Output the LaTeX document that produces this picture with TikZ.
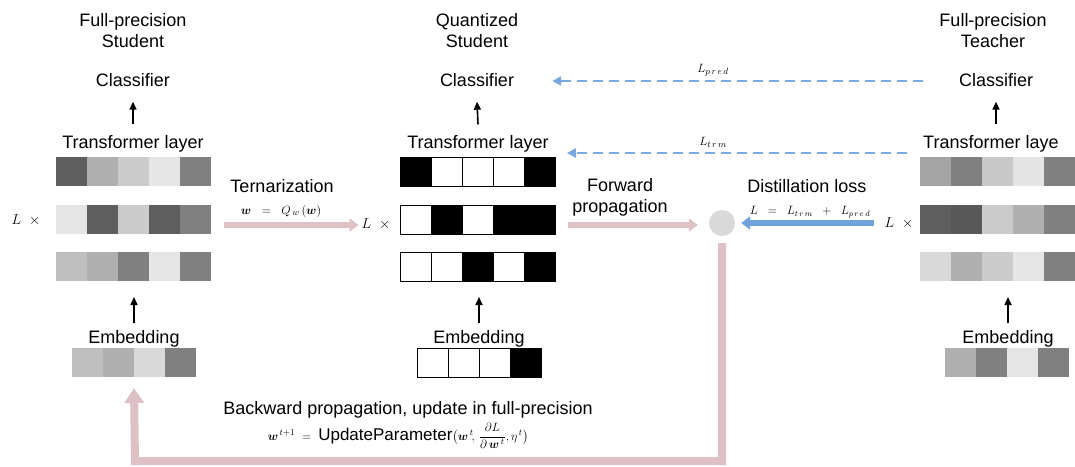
\documentclass[tikz,border=0pt]{standalone}
\usepackage{amsmath}
\usepackage{fontspec}
\setmainfont{Liberation Sans}
\usetikzlibrary{arrows.meta}
\definecolor{pinkarrow}{RGB}{222,193,196}
\definecolor{bluearrow}{RGB}{112,162,220}
\definecolor{bluedash}{RGB}{122,167,222}
\definecolor{dotgray}{RGB}{217,217,217}
\tikzset{
  lbl/.style={font=\fontsize{18}{21}\selectfont, inner sep=0pt, align=center},
  lbla/.style={font=\fontsize{18}{21}\selectfont, inner sep=0pt, text height=13pt, text depth=4pt},
  mth/.style={font=\fontsize{12}{14}\selectfont, inner sep=0pt},
  mthb/.style={font=\fontsize{14}{16}\selectfont, inner sep=0pt},
  cell/.style={minimum width=31pt, minimum height=29pt, inner sep=0pt, outer sep=0pt, anchor=north west},
  qcell/.style={cell, draw=black, line width=0.9pt},
  uparrow/.style={line width=1.6pt, -{Triangle[length=8pt,width=7pt]}},
  pinkbig/.style={draw=pinkarrow, line width=6pt, -{Triangle[length=9pt,width=13pt]}},
  bluebig/.style={draw=bluearrow, line width=6pt, -{Triangle[length=9pt,width=13pt]}},
  pinkfb/.style={draw=pinkarrow, line width=8pt, -{Triangle[length=15pt,width=19pt]}},
  bluedashed/.style={draw=bluedash, line width=2.4pt, dash pattern=on 10pt off 6pt, -{Triangle[length=9pt,width=9pt]}}
}
\newcommand\grayrow[4]{\foreach \g [count=\i] in {#4} {\node[cell, fill={rgb,255:red,\g;green,\g;blue,\g}] (#1c\i) at ({#2+31*(\i-1)},#3) {};}}
\newcommand\quantrow[4]{\foreach \c [count=\i] in {#4} {\node[qcell, fill=\c] (#1c\i) at ({#2+31*(\i-1)},#3) {};}}
\begin{document}
\begin{tikzpicture}[x=1pt,y=-1pt]
\useasboundingbox (0,0) rectangle (1075,466);
\clip (0,0) rectangle (1075,466);

% ---- left: full-precision student
\node[lbl] (headL) at (133,31) {Full-precision\\Student};
\node[lbla] (clsL) at (133,82) {Classifier};
\node[lbla] (trL) at (133,144) {Transformer layer};
\grayrow{la}{56}{157}{94,175,203,229,128}
\grayrow{lb}{56}{205}{229,94,203,94,128}
\grayrow{lc}{56}{252}{191,175,128,229,128}
\node[lbla] (embL) at (134,339) {Embedding};
\grayrow{le}{72}{348}{191,175,217,128}
\node[mthb] (lxL) at (26,220) {$L\ \ \times$};

% ---- middle: quantized student
\node[lbl] (headM) at (477,31) {Quantized\\Student};
\node[lbla] (clsM) at (477,82) {Classifier};
\node[lbla] (trM) at (478,144) {Transformer layer};
\quantrow{ma}{400}{157}{black,white,white,white,black}
\quantrow{mb}{400}{205}{white,black,white,black,black}
\quantrow{mc}{400}{252}{white,white,black,white,black}
\node[lbla] (embM) at (479,339) {Embedding};
\quantrow{me}{417}{348}{white,white,white,black}
\node[mthb] (lxM) at (376,224) {$L\ \ \times$};

% ---- right: full-precision teacher
\node[lbl] (headR) at (993,31) {Full-precision\\Teacher};
\node[lbla] (clsR) at (996,82) {Classifier};
\node[lbla, anchor=west] (trR) at (923,144) {Transformer laye};
\grayrow{ra}{920}{157}{164,128,200,228,128}
\grayrow{rb}{920}{205}{94,88,203,176,128}
\grayrow{rc}{920}{252}{217,176,203,229,128}
\node[lbla] (embR) at (1008,339) {Embedding};
\grayrow{re}{945}{348}{176,128,229,128}
\node[mthb] (lxR) at (899,223) {$L\ \ \times$};

% ---- up arrows
\draw[uparrow] ([yshift=11pt]trL.north) -- ([yshift=-11pt]clsL.south);
\draw[uparrow] ([yshift=11pt]trM.north) -- ([yshift=-11pt]clsM.south);
\draw[uparrow] ([yshift=11pt]clsR.south |- trR.north) -- ([yshift=-11pt]clsR.south);
\draw[uparrow] ([yshift=7pt]embL.north) -- ([yshift=-16pt]embL.north |- lcc1.south);
\draw[uparrow] ([yshift=7pt]embM.north) -- ([yshift=-16pt]embM.north |- mcc1.south);
\draw[uparrow] ([yshift=7pt]embR.north) -- ([yshift=-16pt]embR.north |- rcc1.south);

% ---- ternarization
\node[lbla, text depth=0.5pt] (ternT) at (282,186) {Ternarization};
\node[font=\fontsize{13}{15}\selectfont, inner sep=0pt] (ternF) at (281,211) {$\boldsymbol{w}\ \ =\ \ Q_{\,w}\,(\boldsymbol{w})$};
\coordinate (ternS) at (224,225);
\draw[pinkbig] (ternS) -- ([xshift=-3pt]lxM.west |- ternS);

% ---- forward propagation and loss node
\node[lbl] (fwdT) at (620,197) {Forward\\propagation};
\node[circle, fill=dotgray, minimum size=26pt, inner sep=0pt] (dot) at (722,223) {};
\coordinate (fwdS) at (568,225);
\draw[pinkbig] (fwdS) -- ([xshift=-11pt]dot.west |- fwdS);

\node[lbla] (distT) at (807,188) {Distillation loss};
\node[mth] (distF) at (810,212) {$L\ \ =\ \ L_{t\,r\,m}\ \ +\ \ L_{p\,r\,e\,d}$};
\draw[bluebig] ([xshift=-11pt]lxR.west |- dot.center) -- ([xshift=6pt]dot.east);

% ---- dashed distillation arrows
\draw[bluedashed] ([xshift=-36pt,yshift=1pt]clsR.west) -- ([xshift=38pt,yshift=1pt]clsM.east);
\node[font=\fontsize{13}{15}\selectfont, inner sep=0pt] (lpred) at (713,70) {$L_{p\,r\,e\,d}$};
\draw[bluedashed] ([xshift=-16pt,yshift=-9pt]trR.west) -- ([xshift=18pt,yshift=-9pt]trM.east);
\node[font=\fontsize{13}{15}\selectfont, inner sep=0pt] (ltrm) at (713,142) {$L_{t\,r\,m}$};

% ---- backward propagation
\node[lbla] (bwdT) at (408,410) {Backward propagation, update in full-precision};
\node[font=\fontsize{13}{15}\selectfont, inner sep=0pt] (bwdF) at (398,436) {$\boldsymbol{w}^{\,t+1}\ =\ \text{\fontsize{17}{19}\selectfont UpdateParameter}\big(\boldsymbol{w}^{\,t}\!,\,\dfrac{\;\partial L\;}{\partial\,\boldsymbol{w}^{\,t}},\eta^{\,t}\big)$};
\coordinate (fbLow) at (135,461);
\draw[pinkfb] ([yshift=-7pt]dot.south) |- (fbLow) -- ([yshift=-11pt]lec2.south east);
\end{tikzpicture}
\end{document}
